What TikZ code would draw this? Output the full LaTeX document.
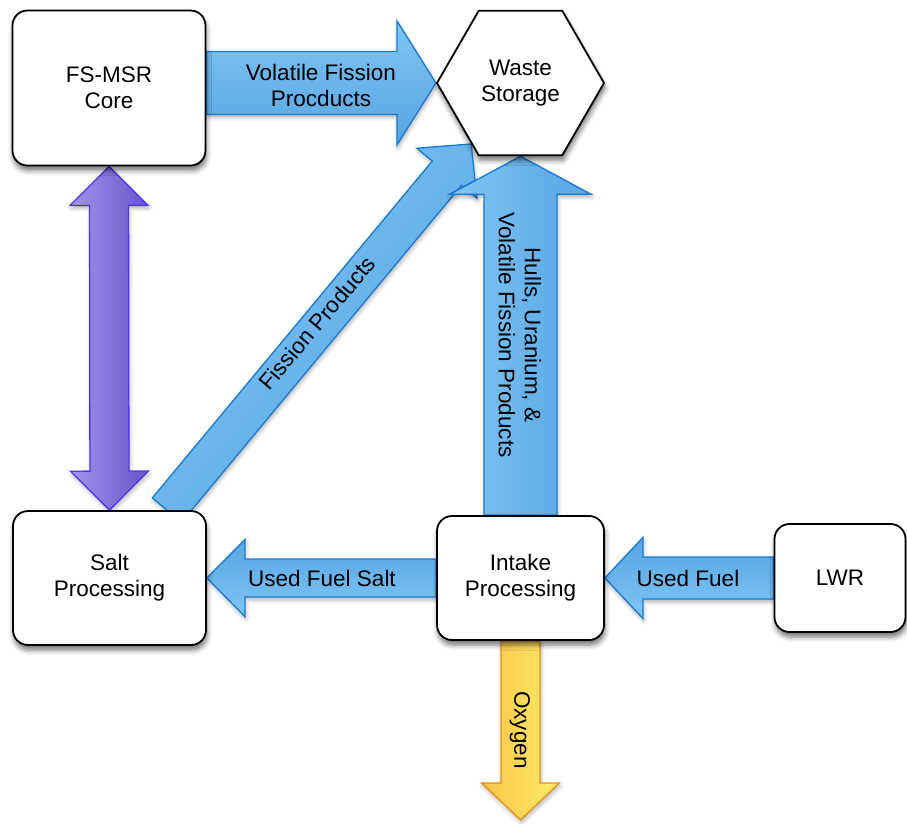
\documentclass[tikz,border=0pt]{standalone}
\usepackage{fontspec}
\setmainfont{Liberation Sans}
\usetikzlibrary{calc,shapes.geometric,backgrounds,shadows.blur}
\definecolor{bline}{RGB}{22,122,212}
\definecolor{blight}{RGB}{128,198,246}
\definecolor{bdark}{RGB}{86,164,226}
\definecolor{pline}{RGB}{84,52,240}
\definecolor{plight}{RGB}{162,148,236}
\definecolor{pdark}{RGB}{104,84,200}
\definecolor{yline}{RGB}{236,142,24}
\definecolor{ylight}{RGB}{255,236,104}
\definecolor{ydark}{RGB}{248,196,72}
\newcommand\singlearrow[6]{%
  \coordinate (sabase) at ($(#3)!#6!(#2)$);
  \path[#1] ($(#2)!#4!90:(#3)$) -- ($(sabase)!#4!90:(#3)$) -- ($(sabase)!#5!90:(#3)$) -- (#3)
    -- ($(sabase)!#5!-90:(#3)$) -- ($(sabase)!#4!-90:(#3)$) -- ($(#2)!#4!-90:(#3)$) -- cycle;}
\newcommand\doublearrow[6]{%
  \coordinate (dabaseA) at ($(#2)!#6!(#3)$);
  \coordinate (dabaseB) at ($(#3)!#6!(#2)$);
  \path[#1] (#2) -- ($(dabaseA)!#5!90:(#3)$) -- ($(dabaseA)!#4!90:(#3)$) -- ($(dabaseB)!#4!90:(#3)$)
    -- ($(dabaseB)!#5!90:(#3)$) -- (#3) -- ($(dabaseB)!#5!-90:(#3)$) -- ($(dabaseB)!#4!-90:(#3)$)
    -- ($(dabaseA)!#4!-90:(#3)$) -- ($(dabaseA)!#5!-90:(#3)$) -- cycle;}
\tikzset{
  box/.style={draw, line width=1.8pt, fill=white, rounded corners=15pt, align=center, inner sep=0pt,
    blur shadow={shadow xshift=1pt, shadow yshift=-5pt, shadow blur radius=5pt, shadow opacity=55}},
  hexa/.style={draw, line width=1.8pt, fill=white, regular polygon, regular polygon sides=6,
    minimum size=167pt, inner sep=0pt, align=center,
    blur shadow={shadow xshift=1pt, shadow yshift=-5pt, shadow blur radius=5pt, shadow opacity=55}},
  arrowbase/.style={line width=1.3pt, line join=miter,
    blur shadow={shadow xshift=1pt, shadow yshift=-3pt, shadow blur radius=4pt, shadow opacity=30}},
  arrowblue/.style={arrowbase, draw=bline, top color=blight, bottom color=bdark},
  arrowpurple/.style={arrowbase, draw=pline, top color=plight, bottom color=pdark},
  arrowyellow/.style={arrowbase, draw=yline, top color=ylight, bottom color=ydark},
  lbl/.style={align=center, inner sep=0pt}
}
\begin{document}
\begin{tikzpicture}[x=1pt, y=-1pt, font=\fontsize{22.5pt}{26pt}\selectfont]
\useasboundingbox (0,0) rectangle (907,823);
% nodes
\node[box, minimum width=193pt, minimum height=155pt] (core) at (109,88) {FS-MSR\\Core};
\node[hexa] (waste) at (520.5,83) {Waste\\Storage};
\node[box, minimum width=193pt, minimum height=134pt] (salt) at (109.5,578) {Salt\\Processing};
\node[box, minimum width=167pt, minimum height=124pt] (intake) at (520.5,578) {Intake\\Processing};
\node[box, minimum width=131pt, minimum height=108pt] (lwr) at (840,578) {LWR};
% connectors
\begin{pgfonlayer}{background}
  \coordinate (fptail) at ($(salt.north east)+(-40,0)$);
  \singlearrow{arrowblue, shading angle=50}{fptail}{waste.231}{19pt}{39pt}{38pt}
  \singlearrow{arrowblue, shading angle=90}{intake.north}{waste.270}{36.5pt}{70.5pt}{38pt}
  \coordinate (voltail) at (core.east |- waste.180);
  \singlearrow{arrowblue, shading angle=0}{voltail}{waste.180}{31.5pt}{62pt}{39pt}
  \coordinate (usftip) at (salt.east |- intake.west);
  \singlearrow{arrowblue, shading angle=180}{intake.west}{usftip}{19pt}{38.5pt}{38pt}
  \singlearrow{arrowblue, shading angle=180}{lwr.west}{intake.east}{21pt}{40.5pt}{38pt}
  \coordinate (oxtip) at ($(intake.south)+(0,179)$);
  \singlearrow{arrowyellow, shading angle=270}{intake.south}{oxtip}{19.5pt}{39pt}{37pt}
  \doublearrow{arrowpurple, shading angle=90}{core.south}{salt.north}{19.5pt}{39pt}{39pt}
\end{pgfonlayer}
% labels
\node[lbl] (lvol) at (321,85) {Volatile Fission\\Procducts};
\node[lbl, rotate=50] (lfp) at (317,323) {Fission Products};
\node[lbl, rotate=-90] (lhulls) at (520,335) {Hulls, Uranium, \&\\Volatile Fission Products};
\node[lbl] (lusf) at (322,578) {Used Fuel Salt};
\node[lbl] (luf) at (688,578) {Used Fuel};
\node[lbl, rotate=-90] (lox) at (520,730) {Oxygen};
\end{tikzpicture}
\end{document}
